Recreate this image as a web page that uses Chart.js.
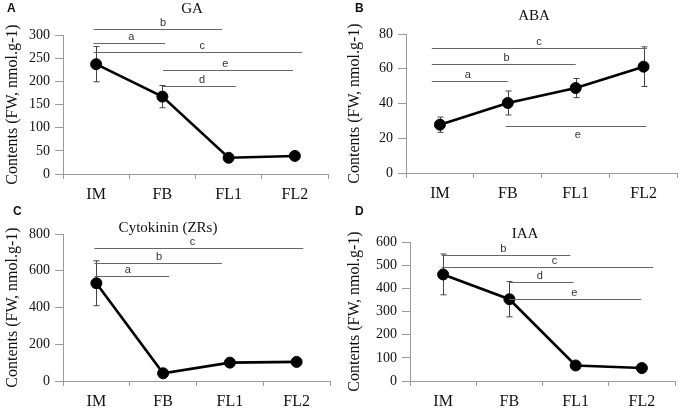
<!DOCTYPE html>
<html>
<head>
<meta charset="utf-8">
<script src="https://cdn.jsdelivr.net/npm/chart.js@4.4.1/dist/chart.umd.min.js"></script>
<style>
  body { margin: 0; background: #fff; }
  #wrap { position: relative; width: 684px; height: 412px; }
  #wrap canvas { position: absolute; }
</style>
</head>
<body>
<div id="wrap">
  <canvas id="pA" width="342" height="206" style="left:0;top:0"></canvas>
  <canvas id="pB" width="342" height="206" style="left:342px;top:0"></canvas>
  <canvas id="pC" width="342" height="206" style="left:0;top:206px"></canvas>
  <canvas id="pD" width="342" height="206" style="left:342px;top:206px"></canvas>
</div>
<script>
const categories = ['IM', 'FB', 'FL1', 'FL2'];
const yTitle = 'Contents (FW, nmol.g-1)';

// A - GA
const gaValues = [237, 167, 35, 39];
const gaErrors = [38, 24, 5, 3];
const gaTicks = [0, 300, 50];
const gaSigLabels = ['b', 'a', 'c', 'e', 'd'];
const gaSigFrom = [-0.04, -0.04, -0.04, 1.01, 1.01];
const gaSigTo = [1.9, 1.04, 3.11, 2.97, 2.11];
const gaSigLevel = [312, 283, 264, 224, 190];
const gaSigLabelAt = [1.01, 0.53, 1.6, 1.95, 1.6];

// B - ABA
const abaValues = [27.8, 40.3, 48.9, 61.2];
const abaErrors = [4.4, 6.9, 5.5, 11.4];
const abaTicks = [0, 80, 20];
const abaSigLabels = ['c', 'b', 'a', 'e'];
const abaSigFrom = [-0.12, -0.12, -0.12, 0.97];
const abaSigTo = [3.05, 2.0, 1.0, 3.04];
const abaSigLevel = [72, 62.7, 52.7, 27.2];
const abaSigLabelAt = [1.46, 0.98, 0.41, 2.03];
const abaSigBelow = [false, false, false, true];

// C - Cytokinin (ZRs)
const ckValues = [532, 42, 100, 104];
const ckErrors = [122, 6, 6, 6];
const ckTicks = [0, 800, 200];
const ckSigLabels = ['c', 'b', 'a'];
const ckSigFrom = [-0.03, -0.03, -0.03];
const ckSigTo = [3.1, 1.88, 1.09];
const ckSigLevel = [722, 640, 569];
const ckSigLabelAt = [1.44, 0.94, 0.47];

// D - IAA
const iaaValues = [460, 353, 67, 56];
const iaaErrors = [88, 76, 5, 5];
const iaaTicks = [0, 600, 100];
const iaaSigLabels = ['b', 'c', 'd', 'e'];
const iaaSigFrom = [-0.02, -0.02, 1.0, 1.0];
const iaaSigTo = [1.92, 3.17, 1.97, 2.99];
const iaaSigLevel = [543, 492, 428, 352];
const iaaSigLabelAt = [0.91, 1.68, 1.46, 1.98];

const serif = "'Liberation Serif', 'Times New Roman', serif";
const sans = "'Liberation Sans', Arial, sans-serif";
const axisGray = '#9a9a9a';
const xAxisH = 30;

function annotate(p) {
  return {
    id: 'annotate',
    beforeDatasetsDraw(chart) {
      const { ctx, scales: { x, y } } = chart;
      ctx.save();
      ctx.strokeStyle = '#444';
      ctx.lineWidth = 1;
      p.values.forEach((v, i) => {
        const e = p.errors[i];
        if (!e) return;
        const px = Math.round(x.getPixelForValue(i)) + 0.5;
        const t = y.getPixelForValue(v + e);
        const b = y.getPixelForValue(v - e);
        ctx.beginPath();
        ctx.moveTo(px, t); ctx.lineTo(px, b);
        ctx.moveTo(px - 3, t); ctx.lineTo(px + 3, t);
        ctx.moveTo(px - 3, b); ctx.lineTo(px + 3, b);
        ctx.stroke();
      });
      ctx.restore();
    },
    afterDatasetsDraw(chart) {
      const { ctx, scales: { x, y } } = chart;
      ctx.save();
      ctx.strokeStyle = '#666';
      ctx.lineWidth = 1;
      ctx.fillStyle = '#333';
      ctx.font = '11px ' + sans;
      ctx.textAlign = 'center';
      p.sigLabels.forEach((lab, i) => {
        const ly = Math.round(y.getPixelForValue(p.sigLevel[i])) + 0.5;
        ctx.beginPath();
        ctx.moveTo(x.getPixelForValue(p.sigFrom[i]), ly);
        ctx.lineTo(x.getPixelForValue(p.sigTo[i]), ly);
        ctx.stroke();
        const below = p.sigBelow && p.sigBelow[i];
        ctx.textBaseline = below ? 'top' : 'bottom';
        ctx.fillText(lab, x.getPixelForValue(p.sigLabelAt[i]), below ? ly + 3 : ly - 1);
      });
      ctx.restore();
    },
    afterDraw(chart) {
      const { ctx } = chart;
      ctx.save();
      ctx.fillStyle = '#111';
      ctx.font = '15px ' + serif;
      ctx.textAlign = 'center';
      ctx.textBaseline = 'middle';
      ctx.fillText(p.title, p.titleX, p.titleY);
      ctx.font = 'bold 12px ' + sans;
      ctx.textAlign = 'left';
      ctx.textBaseline = 'top';
      ctx.fillText(p.letter, p.letterX, p.letterY);
      ctx.restore();
    }
  };
}

function makePanel(id, p) {
  return new Chart(document.getElementById(id), {
    type: 'line',
    data: {
      labels: categories,
      datasets: [{
        data: p.values,
        borderColor: '#000',
        backgroundColor: '#000',
        borderWidth: 2.6,
        pointRadius: 5.5,
        pointBorderWidth: 1,
        pointBorderColor: '#000',
        pointBackgroundColor: '#000',
        tension: 0
      }]
    },
    options: {
      responsive: false,
      animation: false,
      devicePixelRatio: 1,
      layout: {
        padding: { left: 0, top: p.area.top, right: 342 - p.area.right, bottom: 206 - p.area.bottom - xAxisH }
      },
      plugins: { legend: { display: false }, tooltip: { enabled: false }, title: { display: false } },
      scales: {
        x: {
          type: 'category',
          offset: true,
          grid: { offset: true, drawOnChartArea: false, drawTicks: true, tickLength: 5, color: axisGray },
          border: { color: axisGray },
          ticks: { font: { family: serif, size: 16 }, color: '#111', padding: 6, maxRotation: 0, autoSkip: false },
          afterFit: s => { s.height = xAxisH; }
        },
        y: {
          min: p.ticks[0],
          max: p.ticks[1],
          ticks: { stepSize: p.ticks[2], font: { family: serif, size: 14 }, color: '#111', padding: 5 },
          grid: { drawOnChartArea: false, drawTicks: true, tickLength: 8, color: axisGray },
          border: { color: axisGray },
          title: { display: true, text: yTitle, font: { family: serif, size: 16 }, color: '#111', padding: { top: 3, bottom: 0 } },
          afterFit: s => { s.width = p.area.left; }
        }
      }
    },
    plugins: [annotate(p)]
  });
}

makePanel('pA', {
  values: gaValues, errors: gaErrors, ticks: gaTicks,
  sigLabels: gaSigLabels, sigFrom: gaSigFrom, sigTo: gaSigTo, sigLevel: gaSigLevel, sigLabelAt: gaSigLabelAt,
  title: 'GA', titleX: 192, titleY: 9, letter: 'A', letterX: 7, letterY: 3,
  area: { left: 63, right: 328, top: 35, bottom: 174 }
});
makePanel('pB', {
  values: abaValues, errors: abaErrors, ticks: abaTicks,
  sigLabels: abaSigLabels, sigFrom: abaSigFrom, sigTo: abaSigTo, sigLevel: abaSigLevel, sigLabelAt: abaSigLabelAt, sigBelow: abaSigBelow,
  title: 'ABA', titleX: 192, titleY: 16, letter: 'B', letterX: 13, letterY: 3,
  area: { left: 64, right: 337, top: 34, bottom: 173 }
});
makePanel('pC', {
  values: ckValues, errors: ckErrors, ticks: ckTicks,
  sigLabels: ckSigLabels, sigFrom: ckSigFrom, sigTo: ckSigTo, sigLevel: ckSigLevel, sigLabelAt: ckSigLabelAt,
  title: 'Cytokinin (ZRs)', titleX: 168, titleY: 22, letter: 'C', letterX: 13, letterY: 0,
  area: { left: 63, right: 330, top: 28, bottom: 175 }
});
makePanel('pD', {
  values: iaaValues, errors: iaaErrors, ticks: iaaTicks,
  sigLabels: iaaSigLabels, sigFrom: iaaSigFrom, sigTo: iaaSigTo, sigLevel: iaaSigLevel, sigLabelAt: iaaSigLabelAt,
  title: 'IAA', titleX: 183, titleY: 28, letter: 'D', letterX: 13, letterY: 0,
  area: { left: 68, right: 333, top: 36, bottom: 175 }
});
</script>
</body>
</html>
